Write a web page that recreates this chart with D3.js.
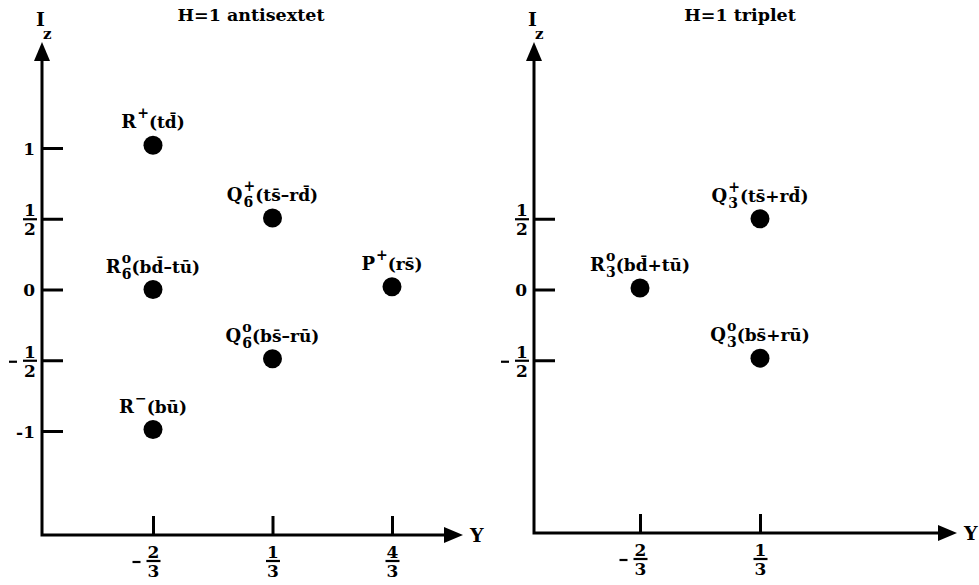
<!DOCTYPE html>
<html>
  <head>
    <meta charset="utf-8">
    <style>
      body { margin: 0; background: #fff; }
      svg text { font-family: "DejaVu Serif", serif; font-weight: bold; fill: #000; }
    </style>
  </head>
  <body>
    <script src="https://d3js.org/d3.v7.min.js"></script>
    <script type="text/javascript">
      const width = 979;
      const height = 585;

      // H=1 antisextet (positions)
      const sextetY = [-2/3, 1/3, -2/3, 4/3, 1/3, -2/3];
      const sextetIz = [1.02, 0.505, 0, 0.02, -0.49, -0.99];
      const sextetBase = ['R', 'Q', 'R', 'P', 'Q', 'R'];
      const sextetSup = ['+', '+', 'o', '+', 'o', '\u2212'];
      const sextetSub = ['', '6\u0304', '6\u0304', '', '6\u0304', ''];
      const sextetQuarks = ['(td\u0304)', '(ts\u0304\u2013rd\u0304)', '(bd\u0304\u2013tu\u0304)', '(rs\u0304)', '(bs\u0304\u2013ru\u0304)', '(bu\u0304)'];

      // H=1 triplet
      const tripletY = [1/3, -2/3, 1/3];
      const tripletIz = [0.5, 0.01, -0.485];
      const tripletBase = ['Q', 'R', 'Q'];
      const tripletSup = ['+', 'o', 'o'];
      const tripletSub = ['3', '3', '3'];
      const tripletQuarks = ['(ts\u0304+rd\u0304)', '(bd\u0304+tu\u0304)', '(bs\u0304+ru\u0304)'];

      // ticks
      const sextetYTicks = [-2/3, 1/3, 4/3];
      const sextetYLabels = ['-2/3', '1/3', '4/3'];
      const sextetIzTicks = [1, 1/2, 0, -1/2, -1];
      const sextetIzLabels = ['1', '1/2', '0', '-1/2', '-1'];
      const tripletYTicks = [-2/3, 1/3];
      const tripletYLabels = ['-2/3', '1/3'];
      const tripletIzTicks = [1/2, 0, -1/2];
      const tripletIzLabels = ['1/2', '0', '-1/2'];

      const panels = [
        {
          title: 'H=1 antisextet', titleX: 251,
          axisX: 42, axisY: 535, xEnd: 463,
          xDomain: [-2/3, 4/3], xRange: [153, 392],
          ys: sextetY, izs: sextetIz, base: sextetBase, sup: sextetSup, sub: sextetSub, quarks: sextetQuarks,
          yTicks: sextetYTicks, yLabels: sextetYLabels, izTicks: sextetIzTicks, izLabels: sextetIzLabels,
        },
        {
          title: 'H=1 triplet', titleX: 740,
          axisX: 534, axisY: 533, xEnd: 957,
          xDomain: [-2/3, 1/3], xRange: [640, 760],
          ys: tripletY, izs: tripletIz, base: tripletBase, sup: tripletSup, sub: tripletSub, quarks: tripletQuarks,
          yTicks: tripletYTicks, yLabels: tripletYLabels, izTicks: tripletIzTicks, izLabels: tripletIzLabels,
        },
      ];

      const svg = d3.select('body')
        .append('svg')
        .attr('width', width)
        .attr('height', height);

      const yScale = d3.scaleLinear().domain([-1, 1]).range([431, 148]);
      const axisTop = 42;
      const arrowLen = 18;
      const arrowHalf = 8;

      function fraction(g, label, cx, barY) {
        const neg = label[0] === '-';
        const parts = (neg ? label.slice(1) : label).split('/');
        if (parts.length === 1) {
          g.append('text').attr('x', cx + 5).attr('y', barY + 6).attr('text-anchor', 'end')
            .attr('font-size', 17).text((neg ? '-' : '') + parts[0]);
          return;
        }
        g.append('text').attr('x', cx).attr('y', barY - 3).attr('text-anchor', 'middle')
          .attr('font-size', 17).text(parts[0]);
        g.append('line').attr('x1', cx - 7).attr('x2', cx + 7).attr('y1', barY).attr('y2', barY)
          .attr('stroke', '#000').attr('stroke-width', 2.2);
        g.append('text').attr('x', cx).attr('y', barY + 16).attr('text-anchor', 'middle')
          .attr('font-size', 17).text(parts[1]);
        if (neg) {
          g.append('line').attr('x1', cx - 21).attr('x2', cx - 13).attr('y1', barY + 1).attr('y2', barY + 1)
            .attr('stroke', '#000').attr('stroke-width', 2.2);
        }
      }

      function drawLabel(g, cx, baseline, base, sup, sub, rest) {
        const lab = g.append('g');
        const t1 = lab.append('text').attr('x', 0).attr('y', 0).attr('font-size', 18).text(base);
        const w1 = t1.node().getComputedTextLength();
        const s1 = lab.append('text').attr('x', w1 + 1).attr('y', -10).attr('font-size', 14).text(sup);
        const s2 = lab.append('text').attr('x', w1 + 1).attr('y', 6).attr('font-size', 14).text(sub);
        const ws = Math.max(s1.node().getComputedTextLength(), sub ? s2.node().getComputedTextLength() : 0);
        const t2 = lab.append('text').attr('x', w1 + ws + 1).attr('y', 0).attr('font-size', 17).text(rest);
        const total = w1 + ws + 1 + t2.node().getComputedTextLength();
        lab.attr('transform', `translate(${cx - total / 2},${baseline})`);
      }

      panels.forEach((p) => {
        const xScale = d3.scaleLinear().domain(p.xDomain).range(p.xRange);
        const g = svg.append('g');

        // axis lines with arrows
        g.append('path')
          .attr('d', `M${p.axisX},${axisTop + arrowLen}V${p.axisY}H${p.xEnd - arrowLen}`)
          .attr('fill', 'none').attr('stroke', '#000').attr('stroke-width', 3);
        g.append('path')
          .attr('d', `M${p.axisX},${axisTop}L${p.axisX - arrowHalf},${axisTop + arrowLen + 1}L${p.axisX + arrowHalf},${axisTop + arrowLen + 1}Z`);
        g.append('path')
          .attr('d', `M${p.xEnd},${p.axisY}L${p.xEnd - arrowLen - 1},${p.axisY - arrowHalf}L${p.xEnd - arrowLen - 1},${p.axisY + arrowHalf}Z`);

        // Iz axis ticks
        g.append('g')
          .attr('transform', `translate(${p.axisX},0)`)
          .call(d3.axisLeft(yScale).tickValues(p.izTicks).tickSize(-21).tickSizeOuter(0).tickFormat(''))
          .call((a) => a.select('.domain').remove())
          .call((a) => a.selectAll('.tick line').attr('stroke-width', 3))
          .selectAll('.tick')
          .each(function (d, i) { fraction(d3.select(this), p.izLabels[i], -12, 0); });

        // Y axis ticks
        g.append('g')
          .attr('transform', `translate(0,${p.axisY})`)
          .call(d3.axisBottom(xScale).tickValues(p.yTicks).tickSize(-19).tickSizeOuter(0).tickFormat(''))
          .call((a) => a.select('.domain').remove())
          .call((a) => a.selectAll('.tick line').attr('stroke-width', 3))
          .selectAll('.tick')
          .each(function (d, i) { fraction(d3.select(this), p.yLabels[i], 0, 26); });

        // axis names and title
        g.append('text').attr('x', p.axisX - 6).attr('y', 26).attr('font-size', 19).text('I');
        g.append('text').attr('x', p.axisX + 1).attr('y', 39).attr('font-size', 15).text('z');
        g.append('text').attr('x', p.xEnd + 7).attr('y', p.axisY + 7).attr('font-size', 19).text('Y');
        g.append('text').attr('x', p.titleX).attr('y', 21).attr('text-anchor', 'middle')
          .attr('font-size', 17.5).text(p.title);

        // states
        g.selectAll('circle.state')
          .data(p.ys)
          .enter()
          .append('circle')
          .attr('class', 'state')
          .attr('cx', (d) => xScale(d))
          .attr('cy', (d, i) => yScale(p.izs[i]))
          .attr('r', 9.5)
          .attr('fill', '#000');

        p.ys.forEach((d, i) => {
          drawLabel(g, xScale(d), yScale(p.izs[i]) - 17, p.base[i], p.sup[i], p.sub[i], p.quarks[i]);
        });
      });
    </script>
  </body>
</html>
